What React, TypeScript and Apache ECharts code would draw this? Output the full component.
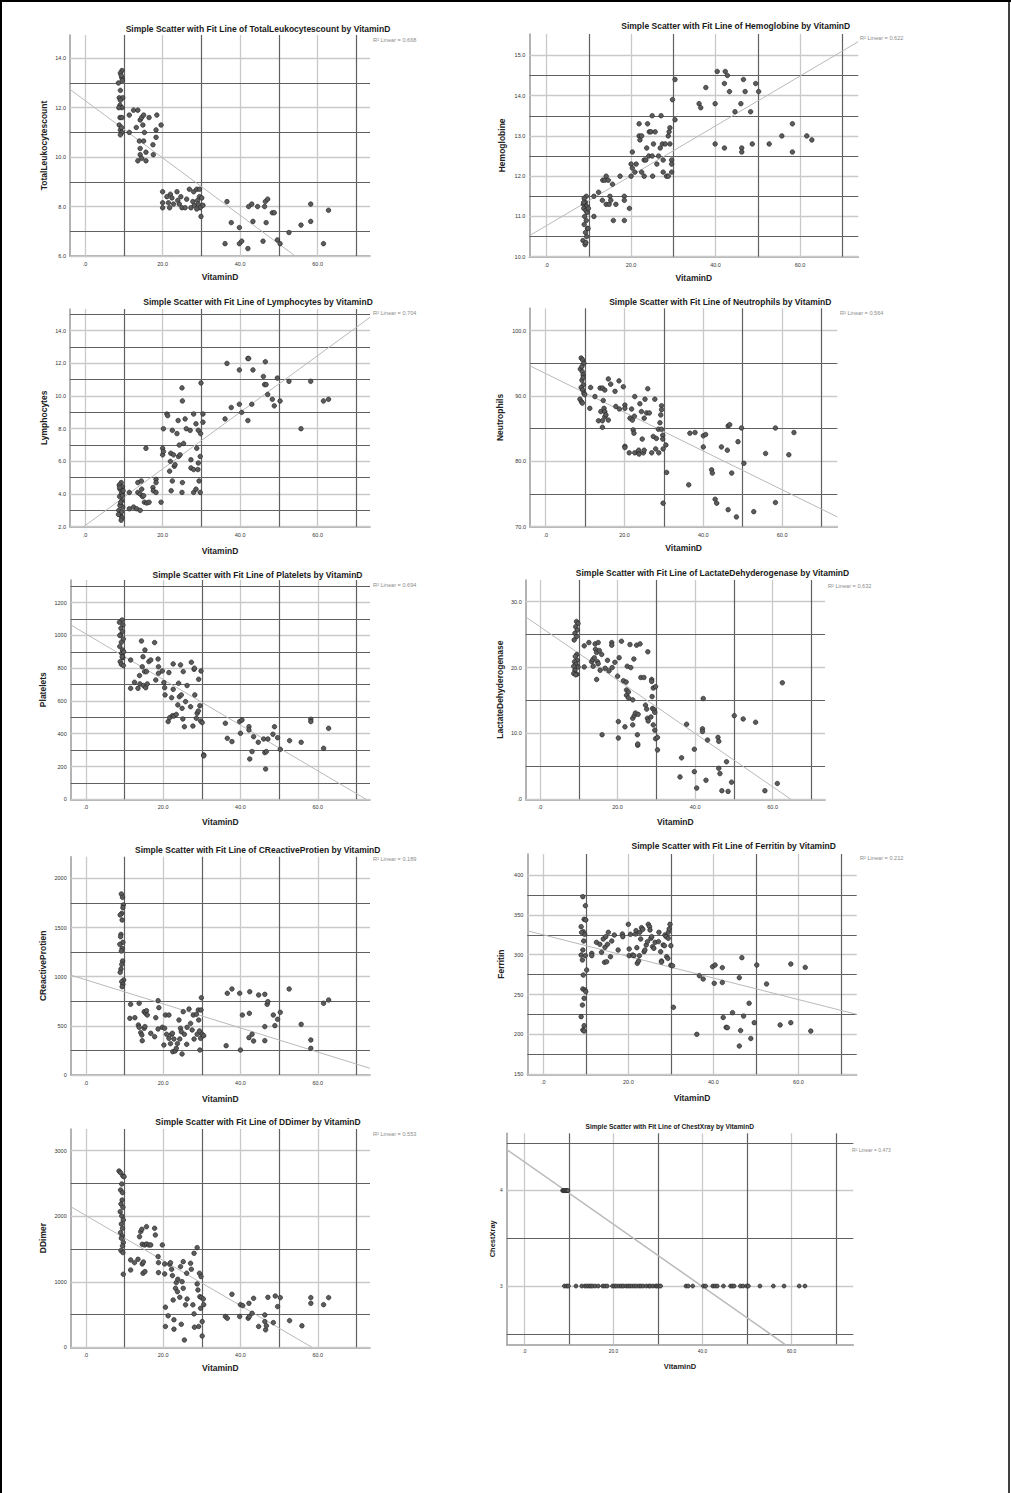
import React, { useEffect, useRef } from "react";
import * as echarts from "echarts";

const FONT = '"Liberation Sans", Arial, sans-serif';

// ---------- data ----------
const xLabelValues = [0, 20, 40, 60];
const xMajorGrid = [0, 20, 40, 60];
const xMinorGrid = [10, 30, 50, 70];

const leukocytes = [
  [9.5,13.5],[9.1,13.4],[9.5,13.2],[8.6,13.0],[9.6,13.1],[9.1,12.7],[8.8,12.4],[9.7,12.4],[9.1,12.3],[9.0,12.1],[9.5,12.0],[9.0,11.6],[9.5,11.6],[8.8,11.3],[9.1,11.1],[9.5,11.0],[9.1,10.9],[9.4,11.2],[8.7,12.0],[9.3,13.3],
  [11.4,11.0],[11.4,11.7],[12.5,11.9],[13.6,11.9],[13.2,11.2],[14.2,11.5],[14.6,11.6],[15.1,11.7],[14.9,11.3],[15.3,11.0],[14.0,10.65],[15.1,10.65],[14.2,10.35],[14.2,10.1],[14.6,9.95],[13.6,9.85],[15.7,9.85],[15.7,10.2],[16.5,11.6],[17.5,10.5],[17.6,10.1],[18.3,10.8],[18.3,11.1],[18.5,11.7],[19.6,11.3],
  [20.0,8.6],[20.0,8.15],[20.0,7.95],[21.1,8.4],[21.5,8.15],[21.8,7.95],[22.0,8.5],[22.4,8.35],[22.8,8.1],[23.7,8.6],[23.9,8.25],[24.3,8.1],[24.7,8.4],[25.0,7.95],[25.8,7.95],[26.2,8.3],[26.9,8.7],[27.3,7.95],[27.8,8.2],[28.0,8.6],[28.2,8.05],[28.8,8.7],[29.0,8.25],[29.2,8.1],[29.5,8.4],[29.7,7.95],[29.9,7.6],[30.1,8.35],[30.4,8.05],[29.5,8.7],[28.8,7.9],
  [36.1,6.5],[36.6,8.2],[37.7,7.35],[39.8,7.15],[39.8,6.5],[40.4,6.6],[42.0,6.3],[42.2,8.0],[43.0,8.1],[43.3,7.4],[44.5,8.0],[45.9,6.6],[46.3,8.0],[46.5,8.2],[47.1,8.3],[46.7,7.35],[48.3,7.75],[48.8,7.75],[49.6,6.65],[50.3,6.5],[52.6,6.95],[55.7,7.25],[58.2,8.1],[58.2,7.4],[61.5,6.5],[62.8,7.85],
];

const hemoglobine = [
  [9.4,11.5],[8.9,11.45],[9.2,11.35],[8.7,11.3],[9.5,11.25],[8.8,11.2],[9.3,11.15],[9.6,11.1],[9.0,11.0],[9.4,10.9],[8.9,10.8],[9.7,10.7],[9.2,10.6],[9.5,10.5],[8.6,10.4],[9.1,10.3],[9.3,10.35],[9.9,11.2],[9.8,10.7],[8.8,11.35],
  [11.2,11.0],[11.2,11.5],[12.3,11.6],[13.3,11.9],[14.1,12.0],[13.8,11.9],[14.6,11.9],[13.2,11.4],[14.1,11.3],[14.8,11.3],[15.0,11.5],[15.2,11.4],[15.6,11.8],[15.8,10.9],[16.4,11.3],[17.4,12.0],[18.4,11.5],[18.4,11.4],[18.4,10.9],[19.6,11.2],
  [20.0,12.0],[20.0,12.3],[20.3,12.2],[20.3,12.6],[20.9,12.1],[21.2,12.3],[21.9,13.3],[21.9,13.0],[22.1,12.9],[22.5,13.0],[22.5,12.1],[23.1,12.0],[23.1,12.4],[23.5,12.4],[23.7,12.7],[23.9,13.3],[24.2,12.5],[24.3,13.1],[24.7,13.1],[25.0,12.5],[25.0,13.5],[25.1,12.0],[25.3,12.8],[25.7,13.1],[26.1,12.3],[26.5,12.5],[26.9,12.7],[27.1,13.5],[27.4,12.8],[27.6,12.4],[27.6,12.1],[28.1,12.8],[28.4,12.0],[28.8,12.0],[28.8,13.0],[29.0,13.1],[29.2,13.2],[29.2,12.8],[29.6,12.4],[29.6,12.3],[29.6,12.1],[29.8,13.9],[30.4,14.4],[30.4,13.4],
  [36.1,13.8],[36.5,13.7],[37.7,14.2],[39.9,13.8],[39.9,12.8],[40.4,14.6],[42.1,12.7],[42.1,14.3],[42.3,14.6],[42.8,14.5],[43.3,14.1],[44.6,13.6],[46.0,13.8],[46.2,12.7],[46.2,12.6],[46.6,14.4],[47.0,14.1],[48.3,13.6],[48.7,12.8],[49.5,14.3],[50.2,14.1],[52.7,12.8],[55.7,13.0],[58.2,13.3],[58.2,12.6],[61.6,13.0],[62.8,12.9],
];

const lymphocytes = [
  [9.3,4.7],[8.8,4.55],[9.6,4.45],[9.0,4.3],[9.4,4.05],[8.9,3.85],[9.5,3.6],[9.1,3.35],[9.7,3.2],[8.7,3.0],[9.2,2.7],[9.5,2.55],[9.3,2.4],[8.9,4.4],[9.6,3.9],[9.0,3.3],[9.4,2.9],[9.8,4.2],[8.6,2.75],[9.2,3.5],
  [11.4,4.1],[11.4,3.1],[12.5,3.2],[13.3,3.1],[13.6,4.7],[13.6,4.1],[14.2,4.0],[14.2,3.0],[14.5,4.8],[14.6,4.3],[14.8,3.85],[15.1,3.9],[15.3,3.5],[15.7,6.8],[15.9,3.45],[16.5,3.5],[17.5,4.4],[17.6,4.2],[18.3,4.9],[18.3,4.7],[18.3,4.1],[19.6,3.5],
  [20.0,6.4],[20.0,6.8],[20.2,6.6],[20.2,8.0],[21.1,8.9],[21.3,8.8],[21.8,5.4],[22.0,6.0],[22.1,6.5],[22.2,4.2],[22.5,7.9],[22.5,4.8],[22.8,6.4],[23.0,5.7],[23.2,5.8],[23.7,7.7],[24.0,8.5],[24.1,6.3],[24.3,7.0],[24.5,6.4],[25.0,10.5],[25.1,9.7],[25.1,4.7],[25.0,4.1],[25.4,7.1],[25.8,8.6],[26.1,8.0],[27.1,7.9],[27.3,5.6],[27.3,6.1],[28.0,5.5],[28.0,8.9],[28.0,4.1],[28.6,8.3],[28.6,4.3],[28.8,6.8],[29.1,5.5],[29.2,5.9],[29.2,7.9],[29.4,4.8],[29.7,6.3],[29.8,7.7],[29.7,4.1],[29.9,10.8],[30.4,8.9],[30.4,8.4],
  [36.1,8.6],[36.6,12.0],[37.7,9.3],[39.8,11.6],[39.8,9.5],[40.4,9.0],[42.0,8.5],[42.0,12.3],[42.2,12.3],[43.0,9.5],[43.3,11.6],[46.0,11.2],[46.3,10.7],[46.5,12.1],[46.7,10.7],[47.1,10.1],[48.3,9.8],[48.8,9.4],[49.6,11.1],[50.3,9.7],[52.6,10.9],[55.7,8.0],[58.2,10.9],[61.5,9.7],[62.8,9.8],
];

const neutrophils = [
  [9.0,95.8],[9.4,95.5],[9.7,95.0],[8.8,94.1],[9.3,93.7],[9.5,93.2],[9.2,92.4],[9.6,91.7],[9.0,91.3],[9.4,90.9],[9.7,90.4],[9.9,90.2],[8.7,89.5],[9.1,89.1],[9.3,88.9],[9.2,94.5],[9.5,92.8],
  [11.2,88.1],[11.4,91.3],[12.5,89.9],[13.4,86.2],[13.8,91.2],[14.0,87.6],[14.4,91.2],[14.4,85.2],[14.4,86.2],[14.6,89.3],[14.8,88.1],[15.0,90.9],[15.0,87.6],[15.0,86.8],[15.3,87.1],[15.9,86.3],[15.9,92.6],[16.5,91.8],[17.6,90.7],[17.8,88.4],[18.6,92.3],[18.7,88.0],[19.7,91.4],
  [20.1,88.6],[20.1,88.1],[20.1,82.3],[20.1,82.1],[21.2,81.3],[21.4,86.6],[21.8,88.0],[22.0,86.3],[22.2,84.8],[22.4,84.3],[22.6,89.9],[22.5,86.9],[22.6,81.3],[23.5,81.3],[23.6,81.7],[23.7,81.1],[23.9,88.8],[24.3,87.6],[24.5,83.4],[24.8,81.3],[25.0,81.7],[25.0,86.6],[25.2,89.5],[25.6,87.4],[25.9,91.1],[26.3,87.4],[26.9,81.3],[27.3,83.8],[27.7,89.5],[27.9,81.9],[28.1,83.5],[28.6,84.9],[28.7,81.3],[29.0,85.9],[29.2,87.1],[29.4,88.5],[29.4,87.9],[29.4,84.9],[29.7,84.0],[29.7,83.4],[29.8,81.9],[29.8,73.6],[30.5,82.5],[30.7,78.3],
  [36.3,76.4],[36.6,84.3],[37.9,84.4],[40.0,83.9],[40.0,82.2],[40.6,84.1],[42.1,78.7],[42.3,78.2],[43.0,74.2],[43.4,73.6],[44.6,82.2],[46.1,81.7],[46.3,85.4],[46.7,85.6],[46.3,72.6],[47.2,78.2],[48.4,71.5],[48.8,83.0],[49.7,85.1],[50.3,79.7],[52.8,72.3],[55.8,81.2],[58.3,85.1],[58.3,73.7],[61.7,81.0],[63.0,84.4],
];

const platelets = [
  [9.4,1094],[8.7,1080],[9.6,1064],[9.1,1043],[9.5,1023],[9.0,1003],[9.7,978],[9.2,958],[8.8,932],[9.5,911],[9.3,891],[9.6,864],[8.9,840],[9.2,824],[9.7,816],[9.4,870],[8.8,1000],[9.8,900],
  [11.6,677],[11.6,850],[12.6,714],[13.5,677],[13.9,755],[14.0,704],[14.4,966],[14.6,809],[14.8,870],[14.9,694],[15.2,779],[15.3,911],[15.5,681],[15.7,779],[15.9,704],[16.3,840],[16.8,850],[17.8,956],[18.1,728],[18.7,856],[18.8,809],[18.8,769],[19.8,783],
  [20.2,712],[20.4,681],[20.5,637],[21.3,474],[21.5,773],[21.7,498],[22.2,620],[22.4,510],[22.6,826],[22.6,671],[22.8,508],[23.4,518],[23.8,576],[24.0,708],[24.2,626],[24.5,820],[24.7,637],[24.9,555],[25.1,490],[25.2,779],[25.5,443],[25.8,596],[26.2,694],[27.1,565],[27.3,836],[27.7,447],[28.0,793],[28.1,800],[28.2,637],[28.6,494],[28.8,525],[29.1,539],[29.2,732],[29.5,571],[29.7,478],[29.8,783],[30.1,468],[30.5,271],[30.5,265],
  [36.1,464],[36.6,372],[37.8,352],[39.8,474],[40.0,403],[40.4,484],[42.2,443],[42.2,423],[42.4,246],[43.0,291],[43.4,382],[44.6,348],[46.0,368],[46.3,285],[46.5,185],[46.7,291],[47.1,368],[48.4,397],[48.8,443],[49.6,376],[50.3,305],[52.7,358],[55.7,348],[58.2,488],[58.2,474],[61.5,311],[62.8,433],
];

const lactate = [
  [9.4,27.0],[9.8,26.7],[9.2,26.2],[9.6,25.7],[9.0,25.2],[9.4,24.7],[8.8,24.2],[9.5,22.0],[9.1,21.7],[9.6,21.1],[8.9,20.9],[9.3,20.5],[9.8,20.1],[9.0,19.6],[8.7,19.1],[9.5,19.0],[9.2,18.9],[8.7,20.2],
  [11.4,20.1],[11.4,23.3],[12.6,23.8],[13.3,20.9],[13.6,21.2],[13.7,20.2],[14.0,21.5],[14.2,23.6],[14.3,22.8],[14.6,22.3],[14.6,18.2],[14.8,20.9],[15.0,23.8],[15.0,20.6],[15.3,22.6],[15.5,19.6],[15.9,22.0],[16.0,9.8],[16.8,19.9],[17.4,21.1],[17.8,19.5],[18.5,23.8],[18.5,23.4],[18.6,20.0],[19.3,20.8],
  [20.0,18.7],[20.2,11.8],[20.2,9.3],[20.4,21.5],[21.0,24.0],[21.5,18.0],[21.9,11.0],[22.2,17.8],[22.3,16.6],[22.3,15.8],[22.5,20.2],[22.8,16.3],[22.8,15.4],[23.2,23.5],[23.4,20.0],[23.9,15.1],[23.9,12.3],[23.9,11.3],[24.2,21.3],[24.3,12.7],[24.6,13.1],[24.9,23.4],[25.1,9.8],[25.2,8.2],[25.2,8.4],[25.3,12.9],[25.8,23.6],[26.0,18.5],[26.8,18.5],[27.2,14.3],[27.5,13.7],[27.8,22.4],[27.7,12.3],[27.9,11.9],[28.6,12.5],[28.8,18.2],[28.8,17.9],[28.9,15.6],[29.0,13.8],[29.2,16.9],[29.2,11.3],[29.4,13.6],[29.6,13.2],[29.6,10.5],[29.8,17.1],[29.8,9.2],[30.3,9.4],[30.3,7.5],
  [36.1,3.4],[36.5,6.3],[37.8,11.4],[39.8,7.6],[39.8,4.2],[40.4,1.7],[42.1,15.3],[41.9,10.7],[41.9,10.3],[42.8,2.9],[43.2,9.0],[45.9,9.4],[46.1,8.8],[46.1,4.7],[46.4,3.9],[46.9,1.3],[48.1,5.7],[48.5,1.2],[49.4,2.6],[50.1,12.7],[52.4,12.2],[55.6,11.7],[58.0,1.3],[61.2,2.4],[62.5,17.7],
];

const creactive = [
  [9.2,1841],[9.5,1807],[9.7,1729],[9.6,1702],[9.3,1644],[8.9,1627],[9.4,1576],[9.1,1430],[9.0,1407],[9.6,1349],[8.8,1329],[9.4,1288],[9.2,1261],[9.5,1159],[9.3,1125],[9.1,1078],[8.9,1044],[9.8,966],[9.3,949],[9.6,922],[9.4,898],
  [11.6,719],[11.4,576],[12.7,583],[13.6,508],[13.8,485],[13.8,729],[14.2,431],[14.5,407],[14.6,349],[15.1,475],[15.1,644],[15.3,492],[15.5,627],[15.7,654],[15.9,610],[16.8,424],[17.8,390],[18.1,583],[18.7,468],[18.7,756],[18.9,685],[19.8,485],
  [20.2,305],[20.4,475],[20.6,610],[20.9,414],[21.5,610],[21.5,373],[21.9,319],[22.2,414],[22.4,424],[22.5,237],[22.8,366],[23.1,244],[23.4,271],[23.7,319],[24.1,559],[24.3,366],[24.5,475],[24.7,441],[24.9,214],[25.2,644],[25.5,414],[26.1,312],[26.2,485],[26.7,671],[27.1,525],[27.5,458],[27.8,610],[28.0,366],[28.6,617],[28.8,414],[29.1,661],[29.2,559],[29.4,448],[29.5,254],[29.7,373],[29.8,661],[29.9,786],[30.1,414],[30.5,400],
  [36.3,298],[36.6,831],[37.8,875],[39.8,831],[40.0,254],[40.5,610],[42.2,380],[42.3,627],[42.4,847],[43.0,414],[43.4,346],[44.7,814],[46.3,820],[46.3,492],[46.3,349],[46.9,719],[47.1,746],[48.5,610],[48.9,502],[49.6,566],[50.3,637],[52.6,875],[55.7,515],[58.2,356],[58.2,271],[61.5,729],[62.8,763],
];

const ferritin = [
  [9.3,372.8],[9.9,361.5],[9.6,344.4],[10.0,343.5],[8.9,335.2],[9.4,328.9],[9.7,325.6],[9.5,317.2],[9.3,305.9],[8.9,299.6],[9.9,298.8],[9.2,293.4],[10.2,280.8],[9.4,274.5],[9.3,257.0],[9.8,255.7],[10.0,253.6],[9.6,245.3],[9.2,236.9],[8.9,222.3],[9.6,211.0],[9.3,205.6],[9.6,204.3],[9.0,328.0],
  [11.4,301.7],[11.4,298.8],[12.5,315.5],[13.3,313.0],[13.7,303.0],[14.1,319.7],[14.4,290.4],[14.5,309.2],[14.7,322.6],[14.9,291.2],[15.1,313.0],[15.3,328.1],[15.8,297.5],[16.1,317.2],[16.7,324.7],[17.6,305.9],[18.6,326.0],[18.7,322.6],
  [20.0,338.1],[20.2,307.2],[20.2,298.8],[20.5,325.6],[21.0,299.6],[21.3,298.8],[21.7,326.0],[21.8,330.2],[22.0,308.8],[22.1,289.2],[22.4,292.1],[22.6,298.8],[22.7,328.1],[22.9,319.7],[23.1,333.9],[23.4,331.8],[23.7,303.8],[23.9,305.9],[24.2,312.2],[24.5,316.4],[24.7,338.1],[25.0,335.2],[25.1,331.0],[25.3,320.5],[25.5,322.6],[25.7,310.1],[26.0,308.0],[26.3,315.5],[27.1,316.4],[27.2,328.1],[27.6,303.8],[27.8,292.1],[27.8,290.8],[28.2,312.2],[28.5,311.3],[28.6,324.7],[28.9,322.6],[29.0,297.5],[29.3,295.4],[29.4,320.5],[29.4,328.1],[29.6,332.3],[29.8,338.1],[30.0,311.3],[30.0,286.8],[30.6,234.0],[30.4,286.2],
  [36.1,200.1],[36.7,273.7],[37.6,269.5],[39.8,285.0],[40.2,264.1],[40.4,287.1],[42.1,283.8],[42.1,265.2],[42.3,221.3],[43.0,208.9],[43.3,208.5],[44.5,227.3],[46.1,271.2],[46.1,185.5],[46.4,204.9],[46.7,296.3],[47.1,223.0],[48.4,239.1],[48.8,194.9],[49.6,214.8],[50.2,287.1],[52.5,263.3],[55.7,211.9],[58.2,214.8],[58.2,288.3],[61.6,284.1],[62.9,204.2],
];

const ddimer = [
  [8.6,2690],[9.0,2664],[9.6,2614],[9.9,2604],[9.3,2492],[9.0,2400],[9.5,2360],[9.4,2248],[9.1,2187],[9.6,2136],[8.9,2070],[9.3,2004],[9.7,1943],[9.2,1882],[9.5,1815],[9.0,1750],[9.4,1699],[9.2,1664],[9.7,1598],[9.5,1547],[9.1,1476],[9.6,1446],[9.7,1115],
  [11.6,1333],[11.6,1180],[12.6,1292],[13.5,1343],[13.9,1688],[14.2,1765],[14.5,1800],[14.6,1572],[14.6,1272],[14.8,1130],[14.9,1302],[15.2,1562],[15.3,1155],[15.7,1577],[15.7,1841],[16.3,1562],[16.8,1562],[17.8,1816],[18.0,1714],[18.7,1384],[18.8,1292],[18.8,1140],[19.8,1562],
  [20.4,1272],[20.4,1120],[20.6,612],[20.6,318],[21.3,480],[21.7,1267],[21.9,1292],[22.2,1191],[22.4,1094],[22.6,722],[22.8,277],[22.8,420],[23.2,900],[23.4,987],[23.7,849],[23.8,1038],[24.3,763],[24.5,1231],[24.7,351],[24.9,1002],[25.2,900],[25.2,1307],[25.5,112],[25.8,648],[26.1,1130],[26.2,737],[27.1,1282],[27.3,1191],[27.7,648],[28.0,510],[28.0,1435],[28.1,307],[28.8,1521],[28.8,967],[29.0,875],[29.2,318],[29.4,1130],[29.5,773],[29.7,595],[29.8,1079],[29.9,758],[30.1,173],[30.1,392],[30.4,737],[30.5,651],
  [36.1,470],[36.6,444],[37.8,809],[39.8,470],[40.0,651],[40.6,636],[42.0,444],[42.2,671],[42.3,470],[43.0,520],[43.4,747],[44.7,318],[46.3,392],[46.3,494],[46.5,267],[46.7,328],[47.1,763],[48.5,377],[49.0,783],[49.6,621],[50.3,758],[52.7,407],[55.9,328],[58.2,758],[58.2,671],[61.5,651],[62.8,758],
];

const chestXray = [
  [8.6,4],[8.8,4],[9.0,4],[9.2,4],[9.4,4],[9.6,4],[9.8,4],
  [9.0,3],[9.5,3],[9.9,3],[11.6,3],[12.9,3],[13.6,3],[14.0,3],[14.5,3],[14.9,3],[15.3,3],[15.9,3],[16.6,3],[17.6,3],[18.1,3],[18.6,3],[19.8,3],[20.3,3],[20.7,3],[21.3,3],[21.8,3],[22.2,3],[22.8,3],[23.3,3],[23.7,3],[24.2,3],[24.7,3],[25.2,3],[25.8,3],[26.2,3],[26.7,3],[27.4,3],[28.0,3],[28.3,3],[28.9,3],[29.5,3],[29.8,3],[30.2,3],[30.6,3],
  [36.3,3],[36.8,3],[37.8,3],[40.2,3],[40.7,3],[42.3,3],[42.8,3],[43.3,3],[44.7,3],[46.3,3],[46.7,3],[47.1,3],[48.5,3],[49.1,3],[49.9,3],[50.3,3],[52.9,3],[55.9,3],[58.3,3],[61.7,3],[63.0,3],
];

// fit line end points (as drawn in the reference)
const fitLeukocytes = [[-3.9, 12.74], [54.2, 6.0]];
const fitHemoglobine = [[-4.1, 10.52], [73.8, 15.34]];
const fitLymphocytes = [[-0.4, 2.0], [73.5, 14.82]];
const fitNeutrophils = [[-4.0, 94.6], [74.0, 71.5]];
const fitPlatelets = [[-3.9, 1064], [72.5, 0]];
const fitLactate = [[-3.7, 27.7], [64.7, 0]];
const fitCReactive = [[-3.9, 1016], [73.5, 68]];
const fitFerritin = [[-3.76, 330], [73.7, 225.2]];
const fitDDimer = [[-3.9, 2146], [58.5, 0]];
const fitChestXray = [[-3.95, 4.43], [58.5, 2.39]];

const variableNames = ["TotalLeukocytescount", "Hemoglobine", "Lymphocytes", "Neutrophils", "Platelets", "LactateDehyderogenase", "CReactiveProtien", "Ferritin", "DDimer", "ChestXray"];
const r2Values = ["0.668", "0.622", "0.704", "0.564", "0.694", "0.632", "0.189", "0.212", "0.553", "0.473"];
const yLabelValues = [
  [6, 8, 10, 12, 14], [10, 11, 12, 13, 14, 15], [2, 4, 6, 8, 10, 12, 14], [70, 80, 90, 100],
  [0, 200, 400, 600, 800, 1000, 1200], [0, 10, 20, 30], [0, 500, 1000, 1500, 2000],
  [150, 200, 250, 300, 350, 400], [0, 1000, 2000, 3000], [3, 4],
];
const yMinorGrid = [
  [7, 9, 11, 13], [10.5, 11.5, 12.5, 13.5, 14.5], [3, 5, 7, 9, 11, 13, 15], [75, 85, 95],
  [100, 300, 500, 700, 900, 1100, 1300], [5, 15, 25], [250, 750, 1250, 1750],
  [175, 225, 275, 325, 375], [500, 1500, 2500], [2.5, 3.5, 4.5],
];
const yRanges = [
  [6, 14.94], [10, 15.53], [2, 15.33], [70, 103.4], [0, 1338], [0, 33.3], [0, 2220], [150, 426.3], [0, 3331], [2.39, 4.6],
];
const xRanges = [
  [-3.9, 73.5], [-4.1, 73.8], [-3.9, 73.5], [-3.98, 74.0], [-3.9, 73.5], [-3.7, 73.5], [-3.9, 73.5], [-3.76, 73.7], [-3.9, 73.5], [-3.95, 73.85],
];

const seriesPoints = [leukocytes, hemoglobine, lymphocytes, neutrophils, platelets, lactate, creactive, ferritin, ddimer, chestXray];
const fitLines = [fitLeukocytes, fitHemoglobine, fitLymphocytes, fitNeutrophils, fitPlatelets, fitLactate, fitCReactive, fitFerritin, fitDDimer, fitChestXray];

// ---------- layout ----------
const layout = [
  { grid: [70, 35, 300, 221], title: [258, 29], r2: [373, 40], xGap: 16, yGap: 22, titleSize: 8.5 },
  { grid: [529.3, 34, 329, 222.7], title: [735.7, 25.7], r2: [860, 38], xGap: 17, yGap: 23, titleSize: 8.5 },
  { grid: [70, 309, 300, 217.7], title: [258, 302.3], r2: [373, 313], xGap: 20, yGap: 21.5, titleSize: 8.5 },
  { grid: [530, 308.3, 307.3, 218.4], title: [720.3, 301.7], r2: [840, 313], xGap: 17, yGap: 25.5, titleSize: 8.5 },
  { grid: [70.7, 580, 299.3, 219.3], title: [257.5, 575], r2: [373, 585], xGap: 18, yGap: 23, titleSize: 8.5 },
  { grid: [525.7, 580, 299.3, 219.3], title: [712.5, 573.3], r2: [828, 585.7], xGap: 18, yGap: 21, titleSize: 8.5 },
  { grid: [70.7, 856.7, 299.3, 218.3], title: [257.7, 850], r2: [373, 859], xGap: 19, yGap: 23, titleSize: 8.5 },
  { grid: [527.3, 854, 329.4, 220.3], title: [733.7, 845.7], r2: [860, 857.7], xGap: 19.5, yGap: 22, titleSize: 8.5 },
  { grid: [70.7, 1129, 299.3, 218.3], title: [258, 1121.7], r2: [373, 1134], xGap: 16.5, yGap: 23, titleSize: 8.5 },
  { grid: [506.7, 1133.3, 346.6, 211], title: [669.7, 1126], r2: [852, 1150], xGap: 18, yGap: 10, titleSize: 6.6 },
];

const fmtX = (v: number) => (v === 0 ? ".0" : v.toFixed(1));
const yFormatters = [
  (v: number) => v.toFixed(1),
  (v: number) => v.toFixed(1),
  (v: number) => v.toFixed(1),
  (v: number) => v.toFixed(1),
  (v: number) => String(v),
  (v: number) => (v === 0 ? ".0" : v.toFixed(1)),
  (v: number) => String(v),
  (v: number) => String(v),
  (v: number) => String(v),
  (v: number) => String(v),
];

const MAJOR = { color: "#c9c9c9", width: 1.3, type: "solid" };
const MINOR = { color: "#606060", width: 1.2, type: "solid" };

function buildOption() {
  const grid: any[] = [];
  const xAxis: any[] = [];
  const yAxis: any[] = [];
  const series: any[] = [];
  const graphic: any[] = [];

  layout.forEach((L, i) => {
    const small = i === 9;
    grid.push({ left: L.grid[0], top: L.grid[1], width: L.grid[2], height: L.grid[3] });
    xAxis.push({
      type: "value", gridIndex: i, min: xRanges[i][0], max: xRanges[i][1],
      name: "VitaminD", nameLocation: "middle", nameGap: L.xGap,
      nameTextStyle: { fontFamily: FONT, fontWeight: "bold", fontSize: small ? 7.5 : 8.5, color: "#222" },
      axisLine: { show: true, onZero: false, lineStyle: { color: "#9a9a9a", width: 1.5 } },
      axisTick: { show: false },
      splitLine: { show: false },
      axisLabel: { customValues: xLabelValues, formatter: fmtX, fontFamily: FONT, fontSize: small ? 4.8 : 5.5, color: "#333", margin: 5 },
    });
    yAxis.push({
      type: "value", gridIndex: i, min: yRanges[i][0], max: yRanges[i][1],
      name: variableNames[i], nameLocation: "middle", nameGap: L.yGap,
      nameTextStyle: { fontFamily: FONT, fontWeight: "bold", fontSize: small ? 7.5 : 8.5, color: "#222" },
      axisLine: { show: true, onZero: false, lineStyle: { color: "#9a9a9a", width: 1.5 } },
      axisTick: { show: false },
      splitLine: { show: false },
      axisLabel: { customValues: yLabelValues[i], formatter: yFormatters[i], fontFamily: FONT, fontSize: small ? 4.8 : 5.5, color: "#333", margin: 4 },
    });

    const gridLines: any[] = [];
    xMajorGrid.forEach((v) => gridLines.push({ xAxis: v, lineStyle: MAJOR }));
    yLabelValues[i].forEach((v) => gridLines.push({ yAxis: v, lineStyle: MAJOR }));
    xMinorGrid.forEach((v) => gridLines.push({ xAxis: v, lineStyle: MINOR }));
    yMinorGrid[i].forEach((v) => gridLines.push({ yAxis: v, lineStyle: MINOR }));

    series.push({
      type: "line", xAxisIndex: i, yAxisIndex: i, data: fitLines[i], showSymbol: false, symbol: "none",
      lineStyle: { color: "#b9b9b9", width: small ? 1.5 : 1 }, silent: true, clip: true, z: 2,
      markLine: { silent: true, symbol: ["none", "none"], label: { show: false }, z: 1, animation: false, data: gridLines },
    });
    series.push({
      type: "scatter", xAxisIndex: i, yAxisIndex: i, data: seriesPoints[i], symbol: "circle", symbolSize: small ? 4 : 4.6,
      itemStyle: { color: "#5c5c5c", borderColor: "#1e1e1e", borderWidth: 0.6, opacity: 1 }, z: 10, silent: true,
    });

    graphic.push({
      type: "text", x: L.title[0], y: L.title[1], silent: true,
      style: { text: `Simple Scatter with Fit Line of ${variableNames[i]} by VitaminD`, align: "center", verticalAlign: "middle", fontFamily: FONT, fontWeight: "bold", fontSize: L.titleSize, fill: "#1a1a1a" },
    });
    graphic.push({
      type: "text", x: L.r2[0], y: L.r2[1], silent: true,
      style: { text: `R² Linear = ${r2Values[i]}`, align: "left", verticalAlign: "middle", fontFamily: FONT, fontSize: small ? 5 : 5.6, fill: "#8c8c8c" },
    });
  });

  graphic.push(
    { type: "line", silent: true, shape: { x1: 0, y1: 1, x2: 1011, y2: 1 }, style: { stroke: "#000", lineWidth: 2 } },
    { type: "line", silent: true, shape: { x1: 1, y1: 0, x2: 1, y2: 1493 }, style: { stroke: "#000", lineWidth: 2 } },
    { type: "line", silent: true, shape: { x1: 1009, y1: 0, x2: 1009, y2: 1493 }, style: { stroke: "#000", lineWidth: 1.5 } },
  );

  return { animation: false, backgroundColor: "#ffffff", grid, xAxis, yAxis, series, graphic };
}

export default function App() {
  const ref = useRef<HTMLDivElement>(null);
  useEffect(() => {
    document.body.style.margin = "0";
    const chart = echarts.init(ref.current!, null, { renderer: "svg" });
    chart.setOption(buildOption() as any);
    return () => chart.dispose();
  }, []);
  return <div ref={ref} style={{ width: 1011, height: 1493, background: "#fff" }} />;
}
